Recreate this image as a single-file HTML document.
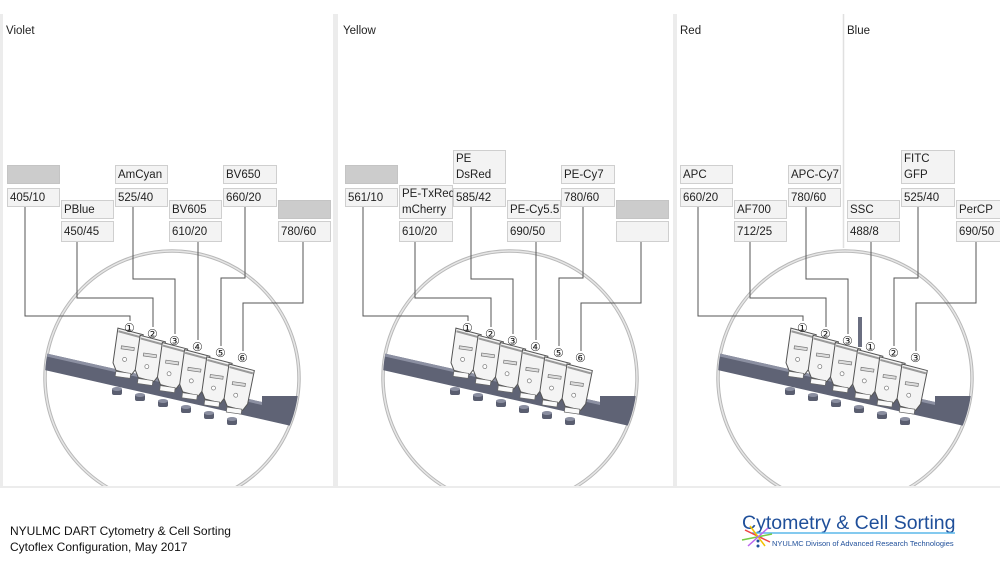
<!DOCTYPE html>
<html><head><meta charset="utf-8"><style>
html,body{margin:0;padding:0;background:#fff;}
svg{display:block;font-family:"Liberation Sans","DejaVu Sans",sans-serif;}
.b{fill:#f3f3f3;stroke:#cfcfcf;stroke-width:1}
.g{fill:#cccccc;stroke:#c4c4c4;stroke-width:1}
.t{font-size:11.5px;fill:#222}
.n{font-size:12px;fill:#222}
.c{fill:none;stroke:#555;stroke-width:1}
</style></head><body>
<svg width="1000" height="566" viewBox="0 0 1000 566" xmlns="http://www.w3.org/2000/svg">
<defs>
 <clipPath id="cc"><circle cx="172" cy="378" r="127"/></clipPath>
 <g id="det">
  <path d="M0,0 L26,3 L24,37 L20,44 L4,42 L0,35 Z" fill="#f4f4f4" stroke="#555" stroke-width="1"/>
  <path d="M1,3 L25,6" stroke="#999" stroke-width="2"/>
  <rect x="6" y="17" width="13" height="3" fill="#ddd" stroke="#777" stroke-width="0.7"/>
  <circle cx="11" cy="30" r="2" fill="#fff" stroke="#777" stroke-width="0.7"/>
  <rect x="4" y="43" width="15" height="5" fill="#fafafa" stroke="#666" stroke-width="0.7"/>
 </g>
 <g id="cyl"><rect x="0" y="0" width="10" height="7" rx="2" fill="#5a5e70"/><ellipse cx="5" cy="1" rx="5" ry="2" fill="#8a8ea0"/></g>
 <g id="scene">
  <circle cx="172" cy="378" r="127" fill="none" stroke="#b8b8b8" stroke-width="3.5"/>
  <circle cx="172" cy="378" r="127" fill="none" stroke="#e6e6e6" stroke-width="1.5"/>
  <g clip-path="url(#cc)">
   <polygon points="40,352 262,402 262,396 300,396 300,428 40,369" fill="#5f6375"/>
   <polygon points="40,352 262,402 262,405 40,355" fill="#8c90a2"/>
   <use href="#cyl" x="112" y="388"/><use href="#cyl" x="135" y="394"/><use href="#cyl" x="158" y="400"/>
   <use href="#cyl" x="181" y="406"/><use href="#cyl" x="204" y="412"/><use href="#cyl" x="227" y="418"/>
  </g>
  <g transform="rotate(8 172 360)">
   <use href="#det" x="114" y="336"/>
   <use href="#det" x="137" y="340"/>
   <use href="#det" x="160" y="344"/>
   <use href="#det" x="183" y="348"/>
   <use href="#det" x="206" y="352"/>
   <use href="#det" x="229" y="356"/>
  </g>
  <polyline class="c" points="25,206 25,316 130,316 130,321"/>
  <polyline class="c" points="77,241 77,298 153,298 153,327"/>
  <polyline class="c" points="133,206 133,279 175,279 175,334"/>
  <polyline class="c" points="198,241 198,340"/>
  <polyline class="c" points="245,206 245,278 221,278 221,346"/>
  <polyline class="c" points="303,241 303,303 243,303 243,351"/>
 </g>
</defs>

<!-- Violet -->
<text x="6" y="34" class="t">Violet</text>
<use href="#scene" x="0" y="0"/>
<rect class="g" x="7.5" y="165.5" width="52" height="18"/>
<rect class="b" x="7.5" y="188.5" width="52" height="18"/><text x="10" y="201" class="t">405/10</text>
<rect class="b" x="61.5" y="200.5" width="52" height="18"/><text x="64" y="213" class="t">PBlue</text>
<rect class="b" x="61.5" y="221.5" width="52" height="20"/><text x="64" y="235" class="t">450/45</text>
<rect class="b" x="115.5" y="165.5" width="52" height="18"/><text x="118" y="178" class="t">AmCyan</text>
<rect class="b" x="115.5" y="188.5" width="52" height="18"/><text x="118" y="201" class="t">525/40</text>
<rect class="b" x="169.5" y="200.5" width="52" height="18"/><text x="172" y="213" class="t">BV605</text>
<rect class="b" x="169.5" y="221.5" width="52" height="20"/><text x="172" y="235" class="t">610/20</text>
<rect class="b" x="223.5" y="165.5" width="53" height="18"/><text x="226" y="178" class="t">BV650</text>
<rect class="b" x="223.5" y="188.5" width="53" height="18"/><text x="226" y="201" class="t">660/20</text>
<rect class="g" x="278.5" y="200.5" width="52" height="18"/>
<rect class="b" x="278.5" y="221.5" width="52" height="20"/><text x="281" y="235" class="t">780/60</text>
<text x="124" y="332" class="n">①</text><text x="147" y="338" class="n">②</text><text x="169" y="345" class="n">③</text>
<text x="192" y="351" class="n">④</text><text x="215" y="357" class="n">⑤</text><text x="237" y="362" class="n">⑥</text>

<!-- Yellow -->
<text x="343" y="34" class="t">Yellow</text>
<use href="#scene" x="338" y="0"/>
<rect class="g" x="345.5" y="165.5" width="52" height="18"/>
<rect class="b" x="345.5" y="188.5" width="52" height="18"/><text x="348" y="201" class="t">561/10</text>
<rect class="b" x="399.5" y="185.5" width="53" height="33"/><text x="402" y="197" class="t">PE-TxRed</text><text x="402" y="213" class="t">mCherry</text>
<rect class="b" x="399.5" y="221.5" width="53" height="20"/><text x="402" y="235" class="t">610/20</text>
<rect class="b" x="453.5" y="150.5" width="52" height="33"/><text x="456" y="162" class="t">PE</text><text x="456" y="178" class="t">DsRed</text>
<rect class="b" x="453.5" y="188.5" width="52" height="18"/><text x="456" y="201" class="t">585/42</text>
<rect class="b" x="507.5" y="200.5" width="53" height="18"/><text x="510" y="213" class="t">PE-Cy5.5</text>
<rect class="b" x="507.5" y="221.5" width="53" height="20"/><text x="510" y="235" class="t">690/50</text>
<rect class="b" x="561.5" y="165.5" width="53" height="18"/><text x="564" y="178" class="t">PE-Cy7</text>
<rect class="b" x="561.5" y="188.5" width="53" height="18"/><text x="564" y="201" class="t">780/60</text>
<rect class="g" x="616.5" y="200.5" width="52" height="18"/>
<rect class="b" x="616.5" y="221.5" width="52" height="20"/>
<text x="462" y="332" class="n">①</text><text x="485" y="338" class="n">②</text><text x="507" y="345" class="n">③</text>
<text x="530" y="351" class="n">④</text><text x="553" y="357" class="n">⑤</text><text x="575" y="362" class="n">⑥</text>

<!-- Red / Blue -->
<text x="680" y="34" class="t">Red</text>
<text x="847" y="34" class="t">Blue</text>
<line x1="843.5" y1="14" x2="843.5" y2="248" stroke="#e0e0e0" stroke-width="1.5"/>
<use href="#scene" x="673" y="0"/>
<rect x="858" y="317" width="4" height="30" fill="#6a6e80"/>
<rect class="b" x="680.5" y="165.5" width="52" height="18"/><text x="683" y="178" class="t">APC</text>
<rect class="b" x="680.5" y="188.5" width="52" height="18"/><text x="683" y="201" class="t">660/20</text>
<rect class="b" x="734.5" y="200.5" width="52" height="18"/><text x="737" y="213" class="t">AF700</text>
<rect class="b" x="734.5" y="221.5" width="52" height="20"/><text x="737" y="235" class="t">712/25</text>
<rect class="b" x="788.5" y="165.5" width="52" height="18"/><text x="791" y="178" class="t">APC-Cy7</text>
<rect class="b" x="788.5" y="188.5" width="52" height="18"/><text x="791" y="201" class="t">780/60</text>
<rect class="b" x="847.5" y="200.5" width="52" height="18"/><text x="850" y="213" class="t">SSC</text>
<rect class="b" x="847.5" y="221.5" width="52" height="20"/><text x="850" y="235" class="t">488/8</text>
<rect class="b" x="901.5" y="150.5" width="53" height="33"/><text x="904" y="162" class="t">FITC</text><text x="904" y="178" class="t">GFP</text>
<rect class="b" x="901.5" y="188.5" width="53" height="18"/><text x="904" y="201" class="t">525/40</text>
<rect class="b" x="956.5" y="200.5" width="50" height="18"/><text x="959" y="213" class="t">PerCP</text>
<rect class="b" x="956.5" y="221.5" width="50" height="20"/><text x="959" y="235" class="t">690/50</text>
<text x="797" y="332" class="n">①</text><text x="820" y="338" class="n">②</text><text x="842" y="345" class="n">③</text>
<text x="865" y="351" class="n">①</text><text x="888" y="357" class="n">②</text><text x="910" y="362" class="n">③</text>

<!-- cover bottom & separators -->
<rect x="0" y="487" width="1000" height="79" fill="#fff"/>
<rect x="0" y="14" width="3" height="473" fill="#ececec"/>
<rect x="333" y="14" width="5" height="473" fill="#ececec"/>
<rect x="673" y="14" width="4" height="473" fill="#ececec"/>
<rect x="0" y="486" width="1000" height="2" fill="#ececec"/>

<!-- footer -->
<text x="10" y="535" style="font-size:12px;fill:#111">NYULMC DART Cytometry &amp; Cell Sorting</text>
<text x="10" y="551" style="font-size:12px;fill:#111">Cytoflex Configuration, May 2017</text>
<text x="742" y="529" style="font-size:19.5px;fill:#1f4f9a">Cytometry &amp; Cell Sorting</text>
<line x1="752" y1="533" x2="955" y2="533" stroke="#5bb8ea" stroke-width="1.5"/>
<g stroke-width="1.5">
<line x1="745" y1="530" x2="770" y2="542" stroke="#e44"/><line x1="750" y1="526" x2="765" y2="546" stroke="#f2c200"/>
<line x1="742" y1="540" x2="772" y2="534" stroke="#7c4"/><line x1="748" y1="546" x2="768" y2="528" stroke="#b6e"/>
</g>
<circle cx="758" cy="541" r="1.5" fill="#1f4f9a"/><circle cx="758" cy="546" r="1.5" fill="#1f4f9a"/>
<text x="772" y="546" style="font-size:7.5px;fill:#1f4f9a">NYULMC Divison of Advanced Research Technologies</text>
</svg>
</body></html>
